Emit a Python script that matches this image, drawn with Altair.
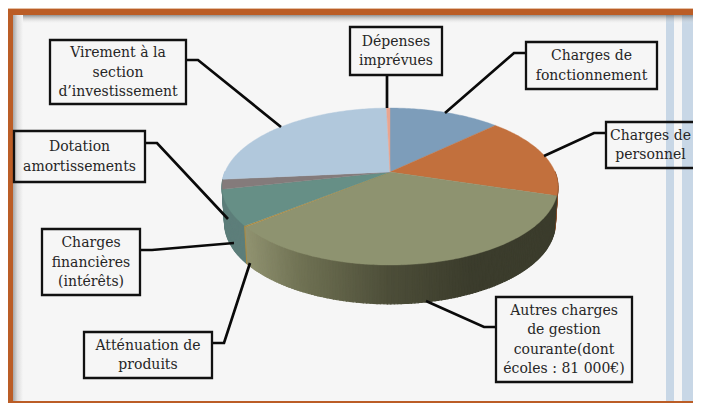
import math
import altair as alt

W, H = 693, 403

# ---- data ----
slice_names = ["Charges de fonctionnement", "Charges de personnel", "Autres charges",
               "Atténuation de produits", "Charges financières", "Dotation amortissements",
               "Virement", "Dépenses imprévues"]
slice_values = [12.8, 17.0, 34.2, 0.2, 7.3, 2.0, 26.1, 0.4]
top_colors = ["#7d9dba", "#c2703d", "#8e9370", "#b08a3e", "#668f86", "#847b7b", "#b1c8dc", "#e8a590"]
wall_colors = ["#7d9dba", "#8a4f2a", None, "#a88a45", "#5d7e7a", "#5d7e7a", "#b1c8dc", "#e8a590"]

label_lines = [["Virement à la", "section", "d’investissement"], ["Dépenses", "imprévues"],
               ["Charges de", "fonctionnement"], ["Charges de", "personnel"],
               ["Autres charges", "de gestion", "courante(dont", "écoles : 81 000€)"],
               ["Atténuation de", "produits"], ["Charges", "financières", "(intérêts)"],
               ["Dotation", "amortissements"]]
label_boxes = [(50, 40, 186, 104), (350, 27, 442, 75), (526, 42, 657, 89), (606, 122, 695, 168),
               (496, 297, 632, 382), (84, 332, 212, 378), (42, 229, 140, 295), (14, 131, 145, 182)]
leaders = [[(186, 60), (198, 60), (281, 127)], [(387, 75), (387, 108)],
           [(526, 53), (514, 53), (445, 113)], [(606, 133), (594, 133), (544, 156)],
           [(496, 327), (484, 327), (426, 301)], [(212, 343), (224, 343), (250, 263)],
           [(140, 250), (152, 250), (234, 243)], [(145, 143), (157, 143), (228, 219)]]

# ---- perspective disc ----
CX, CY, A, B, K = 390.0, 172.0, 165.0, 75.8, 0.185
DEPTH = 36.0


def top_pt(deg):
    u, v = math.sin(math.radians(deg)), math.cos(math.radians(deg))
    d = 1 + K * v
    return [CX + A * u / d - 8, CY - B * v / d - 8]


def bot_pt(deg):
    u, v = math.sin(math.radians(deg)), math.cos(math.radians(deg))
    d = 1 + K * v
    return [CX + 0.985 * A * u / d - 8, CY + DEPTH - 1.03 * B * v / d - 8]


def olive(x):
    stops = [(247, (0x90, 0x92, 0x70)), (300, (0x70, 0x72, 0x54)), (390, (0x4c, 0x4d, 0x38)),
             (470, (0x3b, 0x3c, 0x2c)), (600, (0x3b, 0x3c, 0x2c))]
    for (x0, c0), (x1, c1) in zip(stops, stops[1:]):
        if x <= x1:
            t = max(0.0, (x - x0) / (x1 - x0))
            return "#%02x%02x%02x" % tuple(round(a + (b - a) * t) for a, b in zip(c0, c1))
    return "#3b3c2c"


def feature(ring, color, sw):
    return {"type": "Feature",
            "geometry": {"type": "Polygon", "coordinates": [ring + [ring[0]]]},
            "properties": {"color": color, "sw": sw}}


total = sum(slice_values)
edges = [0.0]
for v in slice_values:
    edges.append(edges[-1] + v / total * 360)

walls, tops = [], []
for i, (a0, a1) in enumerate(zip(edges, edges[1:])):
    n = max(1, int(math.ceil(a1 - a0)))
    angs = [a0 + (a1 - a0) * j / n for j in range(n + 1)]
    tops.append(feature([[CX - 8, CY - 8]] + [top_pt(a) for a in angs], top_colors[i], 0.4))
    for p, q in zip(angs, angs[1:]):
        if max(p, q) <= 90 or min(p, q) >= 270:
            continue
        col = wall_colors[i] or olive(top_pt((p + q) / 2)[0] + 8)
        walls.append(((p + q) / 2, feature([top_pt(p), top_pt(q), bot_pt(q), bot_pt(p)], col, 1.2)))

walls.sort(key=lambda t: abs(t[0] - 180), reverse=True)
features = [w[1] for w in walls] + tops

geo = alt.Chart(alt.InlineData(values={"type": "FeatureCollection", "features": features},
                               format=alt.DataFormat(type="json", property="features"))).mark_geoshape().encode(
    fill=alt.Color("properties.color:N", scale=None, legend=None),
    stroke=alt.Color("properties.color:N", scale=None, legend=None),
    strokeWidth=alt.StrokeWidth("properties.sw:Q", scale=None, legend=None),
).project(type="identity", scale=1, translate=[0, 0])

# ---- shared pixel scales ----
xs = alt.Scale(domain=[8, W], range=[0, W - 8])
ys = alt.Scale(domain=[8, H], range=[0, H - 8])
X = lambda f: alt.X(f, type="quantitative", scale=xs, axis=None)
Y = lambda f: alt.Y(f, type="quantitative", scale=ys, axis=None)

# ---- page background ----
panels = [
    (8, 8, W, H, "#f6f6f6"),
    (666, 8, 674, H, "#c8d7e6"),
    (682, 8, W, H, "#c8d7e6"),
]
bg = alt.Chart(alt.Data(values=[dict(x=a, y=b, x2=c, y2=d, c=e) for a, b, c, d, e in panels])).mark_rect().encode(
    x=X("x"), y=Y("y"), x2="x2:Q", y2="y2:Q", fill=alt.Color("c:N", scale=None, legend=None))

shadow_top = alt.Chart(alt.Data(values=[dict(x=13, y=15, x2=W, y2=24)])).mark_rect(
    fill=alt.Gradient(gradient="linear", x1=0, y1=0, x2=0, y2=1,
                      stops=[alt.GradientStop(color="rgba(90,90,90,0.65)", offset=0),
                             alt.GradientStop(color="rgba(150,150,150,0.3)", offset=0.45),
                             alt.GradientStop(color="rgba(246,246,246,0)", offset=1)])
).encode(x=X("x"), y=Y("y"), x2="x2:Q", y2="y2:Q")
shadow_left = alt.Chart(alt.Data(values=[dict(x=13, y=15, x2=23, y2=H)])).mark_rect(
    fill=alt.Gradient(gradient="linear", x1=0, y1=0, x2=1, y2=0,
                      stops=[alt.GradientStop(color="#a8a8a8", offset=0),
                             alt.GradientStop(color="#dddddd", offset=0.45),
                             alt.GradientStop(color="#f6f6f6", offset=1)])
).encode(x=X("x"), y=Y("y"), x2="x2:Q", y2="y2:Q")

frame_rows = [(8, 8, W, 9, "#e4bfa4"), (8, 9, W, 15, "#bb5d26"), (8, 9, 13, H, "#bb5d26"), (8, 401, W, H, "#bb5d26")]
frame = alt.Chart(alt.Data(values=[dict(x=a, y=b, x2=c, y2=d, c=e) for a, b, c, d, e in frame_rows])).mark_rect().encode(
    x=X("x"), y=Y("y"), x2="x2:Q", y2="y2:Q", fill=alt.Color("c:N", scale=None, legend=None))

# ---- leaders, boxes, labels ----
line_rows = [dict(g=i, o=j, x=p[0], y=p[1]) for i, pts in enumerate(leaders) for j, p in enumerate(pts)]
lines = alt.Chart(alt.Data(values=line_rows)).mark_line(color="#0a0a0a", strokeWidth=2.7, strokeJoin="miter").encode(
    x=X("x"), y=Y("y"), detail="g:N", order="o:Q")

box_rows = [dict(x=b[0], y=b[1], x2=b[2], y2=b[3]) for b in label_boxes]
boxes = alt.Chart(alt.Data(values=box_rows)).mark_rect(fillOpacity=0, stroke="#111111", strokeWidth=2.3).encode(
    x=X("x"), y=Y("y"), x2="x2:Q", y2="y2:Q")

text_rows = []
for ls, b in zip(label_lines, label_boxes):
    for j, t in enumerate(ls):
        text_rows.append(dict(t=t, x=(b[0] + b[2]) / 2,
                              y=(b[1] + b[3]) / 2 + 0.5 + (j - (len(ls) - 1) / 2) * 19.3))
texts = alt.Chart(alt.Data(values=text_rows)).mark_text(
    font="DejaVu Serif", fontSize=14, align="center", baseline="middle", color="#262626"
).encode(x=X("x"), y=Y("y"), text="t:N")

chart = alt.layer(bg, shadow_top, shadow_left, frame, geo, lines, boxes, texts).properties(
    width=W - 8, height=H - 8, padding=0, background="#f6f6f6",
    autosize=alt.AutoSizeParams(type="none")
).configure_view(stroke=None)

chart.save("out.html", embed_options={"renderer": "svg", "actions": False})
